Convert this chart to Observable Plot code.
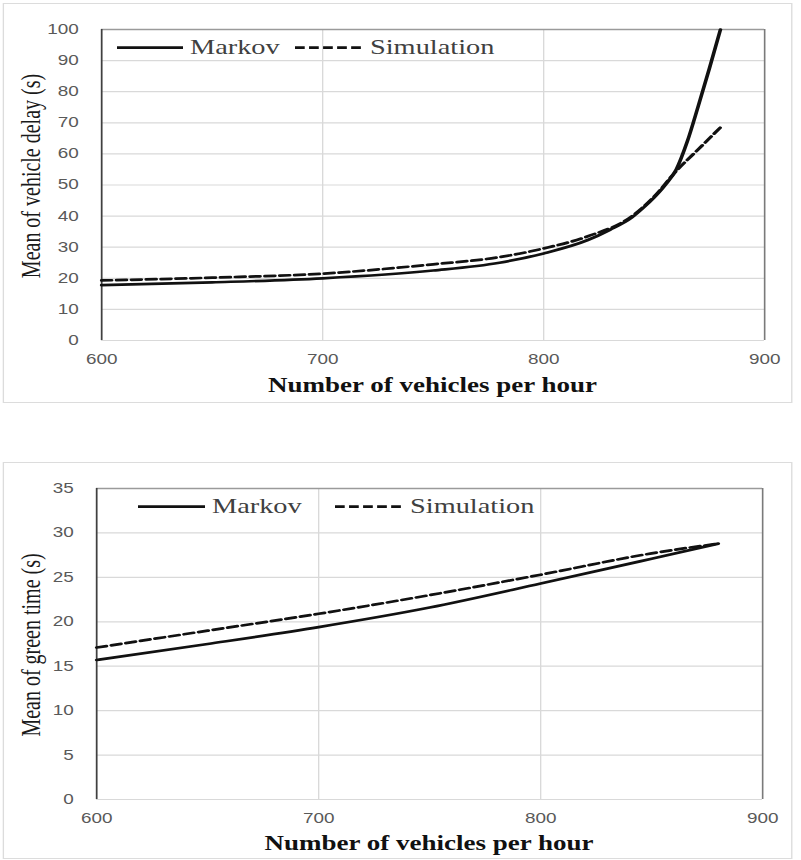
<!DOCTYPE html>
<html>
<head>
<meta charset="utf-8">
<script src="https://cdn.jsdelivr.net/npm/d3@7"></script>
<script src="https://cdn.jsdelivr.net/npm/@observablehq/plot@0.6"></script>
<style>
  html, body { margin: 0; padding: 0; background: #ffffff; }
  #wrap { position: relative; height: 860px; transform-origin: 0 0; }
  #wrap > * { position: absolute; }
  .box { border: 1px solid #dcdcdc; box-sizing: border-box; }
</style>
</head>
<body>
<div id="wrap"></div>
<script>
// ---------- data ----------
const xTicks = [600, 700, 800, 900];

// Top panel: mean of vehicle delay (s)
const delayX        = [600, 650, 700, 750, 780, 800, 820, 830, 840, 845, 850, 855, 860, 865, 870, 875, 880];
const delayMarkov   = [17.8, 18.7, 20.0, 22.5, 25.0, 28.0, 32.3, 35.6, 39.6, 42.6, 46.0, 50.0, 55.0, 64.0, 75.5, 87.5, 100.0];
const simDelayX     = [600, 650, 700, 750, 780, 800, 820, 840, 850, 860, 870, 880];
const delaySim      = [19.3, 20.2, 21.5, 24.5, 26.8, 29.6, 33.5, 40.0, 46.3, 54.5, 61.5, 68.5];
const delayYTicks   = [0, 10, 20, 30, 40, 50, 60, 70, 80, 90, 100];

// Bottom panel: mean of green time (s)
const greenX        = [600, 650, 700, 750, 800, 850, 880];
const greenMarkov   = [15.7, 17.5, 19.4, 21.6, 24.3, 27.1, 28.8];
const greenSim      = [17.1, 19.0, 20.9, 23.0, 25.3, 27.7, 28.8];
const greenYTicks   = [0, 5, 10, 15, 20, 25, 30, 35];

const seriesNames = ["Markov", "Simulation"];

// ---------- layout ----------
const S = 1.35;               // horizontal stretch of the original picture
const W = 801 / S;
const wrap = document.getElementById("wrap");
wrap.style.width = W + "px";
wrap.style.transform = `scaleX(${S})`;

function box(x0, y0, x1, y1) {
  const d = document.createElement("div");
  d.className = "box";
  d.style.left = (x0 / S) + "px";
  d.style.top = y0 + "px";
  d.style.width = ((x1 - x0) / S) + "px";
  d.style.height = (y1 - y0) + "px";
  wrap.appendChild(d);
}
box(3, 3, 793, 403);
box(3, 462, 792, 859);

const toRows = (xs, ys) => xs.map((x, i) => ({x, y: ys[i]}));

function panel({top, height, mL, mR, mT, mB, yMax, yTicks, markov, sim}) {
  const grid = "#d9d9d9";
  const chart = Plot.plot({
    width: W, height,
    marginLeft: mL, marginRight: mR, marginTop: mT, marginBottom: mB,
    x: {domain: [600, 900]},
    y: {domain: [0, yMax]},
    style: {fontFamily: "'Liberation Sans', Arial, sans-serif", fontSize: "14px", color: "#595959", background: "transparent", overflow: "visible"},
    marks: [
      Plot.gridY(yTicks, {stroke: grid, strokeOpacity: 1, strokeWidth: 1.2}),
      Plot.gridX([700, 800], {stroke: grid, strokeOpacity: 1, strokeWidth: 1}),
      Plot.axisY(yTicks, {tickSize: 0, tickPadding: 17, label: null, fill: "#595959"}),
      Plot.axisX(xTicks, {tickSize: 0, tickPadding: 14, label: null, fill: "#595959"}),
      Plot.ruleY([yMax], {stroke: "#9a9a9a", strokeWidth: 1.3}),
      Plot.ruleX([900], {stroke: "#7a7a7a", strokeWidth: 1.2}),
      Plot.ruleX([600], {stroke: "#404040", strokeWidth: 1.3}),
      Plot.line(sim, {x: "x", y: "y", stroke: "#111", strokeWidth: 2.7, strokeDasharray: "7.4,3.6", curve: "monotone-x"}),
      Plot.line(markov, {x: "x", y: "y", stroke: "#111", strokeWidth: 2.7, curve: "monotone-x"})
    ]
  });
  chart.style.position = "absolute";
  chart.style.left = "0px";
  chart.style.top = top + "px";
  wrap.appendChild(chart);
}

panel({top: 0, height: 400, mL: 101 / S, mR: W - 764 / S, mT: 29, mB: 60,
       yMax: 100, yTicks: delayYTicks,
       markov: toRows(delayX, delayMarkov), sim: toRows(simDelayX, delaySim)});
panel({top: 460, height: 400, mL: 96 / S, mR: W - 762 / S, mT: 28, mB: 61,
       yMax: 35, yTicks: greenYTicks,
       markov: toRows(greenX, greenMarkov), sim: toRows(greenX, greenSim)});

// ---------- titles and legends (overlay) ----------
const ns = "http://www.w3.org/2000/svg";
const ov = document.createElementNS(ns, "svg");
ov.setAttribute("width", W);
ov.setAttribute("height", 860);
ov.style.left = "0px"; ov.style.top = "0px";
wrap.appendChild(ov);

function txt(str, attrs) {
  const t = document.createElementNS(ns, "text");
  for (const k in attrs) t.setAttribute(k, attrs[k]);
  t.textContent = str;
  ov.appendChild(t);
}
function ln(x1, x2, y, dash) {
  const l = document.createElementNS(ns, "line");
  l.setAttribute("x1", x1); l.setAttribute("x2", x2);
  l.setAttribute("y1", y); l.setAttribute("y2", y);
  l.setAttribute("stroke", "#111"); l.setAttribute("stroke-width", 2.7);
  if (dash) l.setAttribute("stroke-dasharray", dash);
  ov.appendChild(l);
}
const serif = "'Liberation Serif', 'Times New Roman', serif";

// y titles
txt("Mean of vehicle delay (s)", {transform: `translate(${40 / S},176) rotate(-90)`, "text-anchor": "middle",
  "font-family": serif, "font-size": 20, fill: "#1a1a1a"});
txt("Mean of green time (s)", {transform: `translate(${40 / S},645) rotate(-90)`, "text-anchor": "middle",
  "font-family": serif, "font-size": 20, fill: "#1a1a1a"});
// x titles
txt("Number of vehicles per hour", {x: (101 + 764) / 2 / S, y: 392, "text-anchor": "middle",
  "font-family": serif, "font-size": 20, "font-weight": "bold", fill: "#111"});
txt("Number of vehicles per hour", {x: (96 + 762) / 2 / S, y: 850, "text-anchor": "middle",
  "font-family": serif, "font-size": 20, "font-weight": "bold", fill: "#111"});

// legends
function legend(y, base, xs) {
  ln(xs[0] / S, xs[1] / S, y);
  txt(seriesNames[0], {x: xs[2] / S, y: base, "font-family": serif, "font-size": 21, fill: "#404040"});
  ln(xs[3] / S, xs[4] / S, y, "7.2,3.2");
  txt(seriesNames[1], {x: xs[5] / S, y: base, "font-family": serif, "font-size": 21, fill: "#404040"});
}
legend(47.7, 54, [117, 183, 190, 295, 363, 370]);
legend(506.7, 513, [138, 205, 212, 335, 404, 410]);
</script>
</body>
</html>
